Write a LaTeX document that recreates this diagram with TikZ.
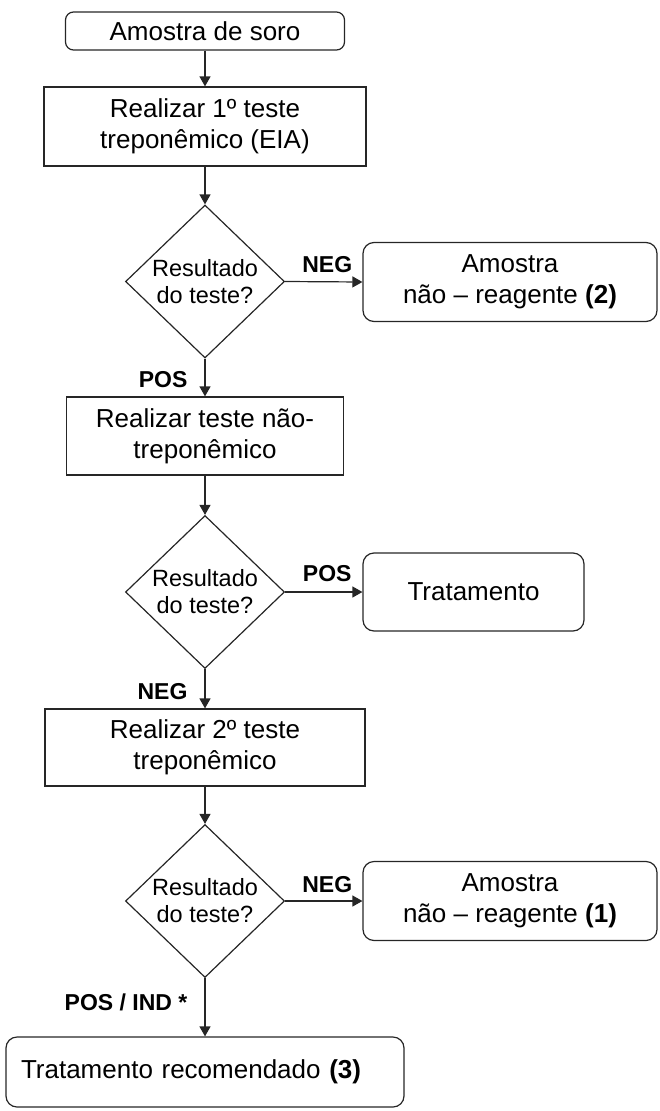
\documentclass[tikz,border=0pt]{standalone}
\usepackage{fontspec}
\setmainfont{Liberation Sans}
\usetikzlibrary{shapes.geometric,arrows.meta}
\begin{document}
\begin{tikzpicture}[x=1pt,y=-1pt,
  line/.style={draw=black!85, line width=1.2pt},
  box/.style={line, rectangle, inner sep=0pt, align=center, font=\fontsize{26}{31}\selectfont},
  rbox/.style={box, rounded corners=11pt},
  dia/.style={line, diamond, inner sep=-3pt, minimum width=159pt, minimum height=153pt, align=center, font=\fontsize{23.5}{27}\selectfont},
  arr/.style={line, -{Triangle[length=10pt,width=11pt]}},
  lbl/.style={font=\bfseries\fontsize{23}{27}\selectfont, inner sep=0pt}]
\useasboundingbox (0,0) rectangle (660,1111);

\node[rbox, rounded corners=8pt, minimum width=279pt, minimum height=38pt] (b1) at (205,31) {Amostra de soro};
\node[box, minimum width=322pt, minimum height=79pt] (b2) at (205,126.5) {Realizar 1º teste\\treponêmico (EIA)};
\node[dia] (d1) at (205,281.5) {Resultado\\do teste?};
\node[rbox, minimum width=294pt, minimum height=79pt] (r1) at (510,282) {Amostra\\não – reagente \textbf{(2)}};
\node[box, minimum width=277pt, minimum height=78pt] (b3) at (205,436) {Realizar teste não-\\treponêmico};
\node[dia] (d2) at (205,592) {Resultado\\do teste?};
\node[rbox, minimum width=221pt, minimum height=78pt] (r2) at (473.5,592) {Tratamento};
\node[box, minimum width=320pt, minimum height=77pt] (b5) at (205,747.5) {Realizar 2º teste\\treponêmico};
\node[dia] (d3) at (205,901) {Resultado\\do teste?};
\node[rbox, minimum width=294pt, minimum height=79pt] (r3) at (510,901) {Amostra\\não – reagente \textbf{(1)}};
\node[rbox, minimum width=398pt, minimum height=70pt, text width=368pt, align=left] (b6) at (205,1072) {\raisebox{-6pt}{Tratamento recomendado \textbf{(3)}}};

\draw[arr] (b1.south) -- (b2.north);
\draw[arr] (b2.south) -- (d1.north);
\draw[arr] (d1.east) -- node[lbl, above=8pt, xshift=3.5pt] {NEG} (r1.west);
\draw[arr] (d1.south) -- node[lbl, pos=0.56, left=17pt] {POS} (b3.north);
\draw[arr] (b3.south) -- (d2.north);
\draw[arr] (d2.east) -- node[lbl, above=10pt, xshift=3.5pt] {POS} (r2.west);
\draw[arr] (d2.south) -- node[lbl, pos=0.575, left=17pt] {NEG} (b5.north);
\draw[arr] (b5.south) -- (d3.north);
\draw[arr] (d3.east) -- node[lbl, above=8pt, xshift=3.5pt] {NEG} (r3.west);
\draw[arr] (d3.south) -- node[lbl, pos=0.42, left=17pt] {POS / IND *} (b6.north);
\end{tikzpicture}
\end{document}
